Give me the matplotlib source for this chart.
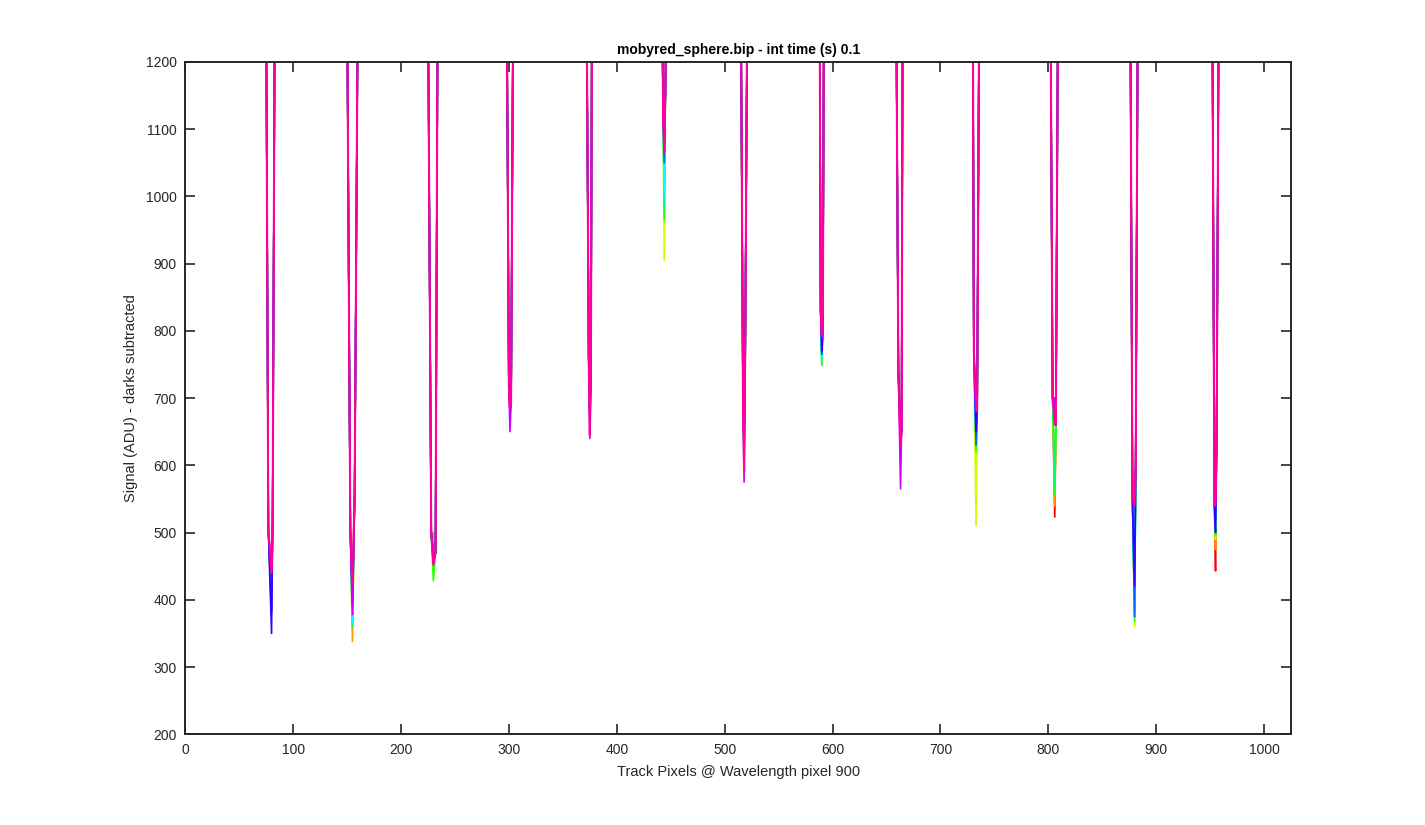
import numpy as np
import matplotlib
matplotlib.use("Agg")
import matplotlib.pyplot as plt
from matplotlib.colors import hsv_to_rgb

# Track dips (gaps between fibres) at wavelength pixel 900
# per dip: pixel where the signal leaves the top, left shoulder, minimum, right shoulder, back to top
dip_xl = [75, 150, 225, 298, 372, 442, 515, 588, 659, 730, 802, 876, 952]
dip_xpl = [77, 153, 228, 300, 374, 443, 517, 589, 661, 731, 804, 878, 954]
dip_xm = [80, 155, 230, 301, 375, 444, 518, 590, 663, 733, 806, 880, 955]
dip_xpr = [81, 157, 232, 302, 376, 445, 519, 591, 664, 734, 807, 881, 956]
dip_xr = [83, 160, 234, 304, 377, 446, 521, 592, 665, 736, 809, 883, 958]

# shoulder signal (ADU) shared by all frames
dip_vpl = [505, 505, 500, 715, 760, 1120, 700, 830, 740, 770, 700, 550, 540]
dip_vpr = [515, 555, 470, 690, 735, 1150, 760, 800, 650, 680, 660, 600, 640]

# signal at the well bottom, one row per dip, one column per frame (10 frames)
dip_min = [
    [390, 385, 410, 400, 420, 430, 380, 350, 445, 440],
    [420, 338, 430, 370, 360, 365, 400, 390, 378, 422],
    [480, 500, 460, 428, 455, 460, 455, 455, 470, 452],
    [700, 710, 695, 700, 720, 705, 690, 680, 650, 685],
    [680, 700, 690, 720, 700, 690, 670, 660, 640, 645],
    [1080, 1090, 905, 965, 980, 1000, 1050, 1070, 1070, 1065],
    [640, 650, 620, 600, 620, 640, 630, 620, 575, 590],
    [790, 780, 770, 748, 752, 760, 765, 770, 790, 795],
    [640, 650, 660, 640, 660, 655, 650, 640, 565, 630],
    [625, 600, 510, 620, 640, 635, 630, 650, 680, 690],
    [523, 540, 560, 555, 570, 680, 690, 700, 700, 660],
    [420, 400, 360, 368, 375, 380, 375, 420, 550, 540],
    [443, 475, 490, 495, 500, 510, 520, 500, 540, 545],
]
track_signal = 1300  # on-track signal, well above the plotted range
n_frames = 10
n_pix = 1024

plt.rcParams['font.family'] = ['Liberation Sans', 'DejaVu Sans']
fig = plt.figure(figsize=(14.25, 8.25), dpi=100)
ax = fig.add_axes([0.13, 0.11, 0.776, 0.815])

for f in range(n_frames):
    xs = [1]
    ys = [track_signal]
    for d in range(len(dip_xm)):
        xs += [dip_xl[d], dip_xpl[d], dip_xm[d], dip_xpr[d], dip_xr[d]]
        ys += [track_signal, dip_vpl[d], dip_min[d][f], dip_vpr[d], track_signal]
    xs.append(n_pix)
    ys.append(track_signal)
    col = hsv_to_rgb([f / n_frames, 1.0, 1.0])
    lw = 1.5 if f == n_frames - 1 else 1.2
    ax.plot(xs, ys, color=col, linewidth=lw)

ax.set_xlim(0, 1025)
ax.set_ylim(200, 1200)
ax.set_xticks(np.arange(0, 1001, 100))
ax.set_yticks(np.arange(200, 1201, 100))

dark = '#262626'
for sp in ax.spines.values():
    sp.set_color(dark)
    sp.set_linewidth(1.4)
ax.tick_params(direction='in', length=7.5, width=1.2, colors=dark, labelsize=10,
               top=True, right=True)
ax.tick_params(axis='x', pad=6)
ax.tick_params(axis='y', pad=6)

ax.set_title('mobyred_sphere.bip - int time (s) 0.1', fontsize=10, fontweight='bold',
             color='black', pad=6)
ax.set_xlabel('Track Pixels @ Wavelength pixel 900', fontsize=10.5, color=dark, labelpad=6)
ax.set_ylabel('Signal (ADU) - darks subtracted', fontsize=10.5, color=dark, labelpad=6)

fig.savefig('out.png', dpi=100)
